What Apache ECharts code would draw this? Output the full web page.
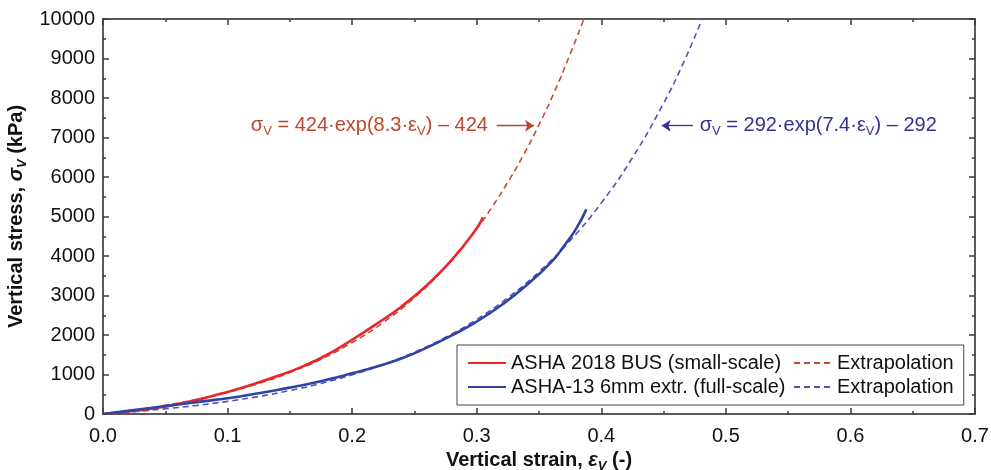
<!DOCTYPE html>
<html>
<head>
<meta charset="utf-8">
<script src="https://cdn.jsdelivr.net/npm/echarts@6/dist/echarts.min.js"></script>
<style>html,body{margin:0;padding:0;background:#fff}#c{width:991px;height:470px}</style>
</head>
<body>
<div id="c"></div>
<script>
// ---- data ----
const redStrain = [0, 0.02, 0.04, 0.06, 0.08, 0.10, 0.12, 0.14, 0.16, 0.18, 0.20, 0.22, 0.24, 0.26, 0.28, 0.30, 0.305];
const redStress = [0, 60, 140, 250, 390, 560, 750, 960, 1200, 1500, 1880, 2290, 2730, 3260, 3900, 4700, 4980];

const blueStrain = [0, 0.02, 0.04, 0.06, 0.08, 0.10, 0.12, 0.14, 0.16, 0.18, 0.20, 0.22, 0.24, 0.26, 0.28, 0.30, 0.32, 0.34, 0.36, 0.37, 0.38, 0.388];
const blueStress = [0, 80, 160, 240, 320, 400, 500, 610, 730, 870, 1030, 1200, 1410, 1680, 1990, 2340, 2760, 3260, 3850, 4250, 4700, 5180];

const redExtStrain = [0, 0.025, 0.05, 0.075, 0.1, 0.125, 0.15, 0.175, 0.2, 0.225, 0.25, 0.275, 0.3, 0.3125, 0.325, 0.3375, 0.35, 0.3625, 0.375, 0.386];
const redExtStress = [0, 98, 220, 366, 550, 773, 1050, 1388, 1810, 2320, 2950, 3731, 4690, 5250, 5870, 6557, 7320, 8166, 9110, 10000];

const blueExtStrain = [0, 0.025, 0.05, 0.075, 0.1, 0.125, 0.15, 0.175, 0.2, 0.225, 0.25, 0.275, 0.3, 0.325, 0.35, 0.375, 0.4, 0.425, 0.45, 0.465, 0.481];
const blueExtStress = [0, 59, 131, 217, 320, 444, 594, 774, 991, 1251, 1565, 1942, 2396, 2943, 3600, 4392, 5344, 6488, 7867, 8825, 10000];

const nameRed = 'ASHA 2018 BUS (small-scale)';
const nameBlue = 'ASHA-13 6mm extr. (full-scale)';
const nameRedExt = 'Extrapolation (small-scale)';
const nameBlueExt = 'Extrapolation (full-scale)';

// annotation anchors (data coordinates)
const annotY = 7300;
const redArrow = [[0.316, annotY], [0.346, annotY]];
const blueArrow = [[0.4735, annotY], [0.4485, annotY]];
const redLabelAt = [0.309, annotY];
const blueLabelAt = [0.479, annotY];

const zip = (a, b) => a.map((v, i) => [v, b[i]]);

const FONT = '"Liberation Sans", Arial, sans-serif';
const RED = '#e8262c', RED_EXT = '#c64a32', RED_TXT = '#b9462f';
const BLUE = '#2f43a6', BLUE_EXT = '#5252b4', BLUE_TXT = '#323294';

function richFor(color) {
  return {
    m: {fontSize: 20, fontFamily: FONT, color: color, lineHeight: 24, verticalAlign: 'middle'},
    g: {fontSize: 20, fontFamily: FONT, color: color, lineHeight: 24, verticalAlign: 'middle'},
    s: {fontSize: 13, fontFamily: FONT, color: color, lineHeight: 13, verticalAlign: 'bottom'}
  };
}
function nameRich() {
  return {
    b: {fontSize: 20, fontWeight: 'bold', fontFamily: FONT, color: '#111', lineHeight: 24, verticalAlign: 'middle'},
    e: {fontSize: 20, fontWeight: 'bold', fontStyle: 'italic', fontFamily: FONT, color: '#111', lineHeight: 24, verticalAlign: 'middle'},
    sub: {fontSize: 13, fontWeight: 'bold', fontStyle: 'italic', fontFamily: FONT, color: '#111', lineHeight: 13, verticalAlign: 'bottom'}
  };
}

const chart = echarts.init(document.getElementById('c'), null, {renderer: 'canvas'});

const axisLineStyle = {color: '#5a5a5a', width: 2};
const tickStyle = {color: '#3a3a3a', width: 1.5};

const option = {
  animation: false,
  backgroundColor: '#fff',
  grid: {left: 103, right: 16, top: 19, bottom: 56, containLabel: false, outerBoundsMode: 'none'},
  legend: {
    left: 457, top: 345,
    width: 500,
    orient: 'horizontal',
    padding: [8, 10, 8, 10],
    itemGap: 4,
    itemWidth: 38,
    itemHeight: 14,
    borderColor: '#444',
    borderWidth: 1,
    backgroundColor: '#fff',
    itemStyle: {opacity: 0},
    textStyle: {fontSize: 20, fontFamily: FONT, color: '#111', lineHeight: 20},
    formatter: function (n) { return n.indexOf('Extrapolation') === 0 ? 'Extrapolation' : n; },
    data: [
      {name: nameRed, textStyle: {width: 278}},
      {name: nameRedExt},
      {name: nameBlue, textStyle: {width: 278}},
      {name: nameBlueExt}
    ]
  },
  xAxis: [{
    type: 'value', min: 0, max: 0.7, interval: 0.1,
    position: 'bottom',
    name: '{b|Vertical strain, }{e|ε}{sub|V}{b| (-)}',
    nameLocation: 'middle', nameGap: 34,
    nameTextStyle: {rich: nameRich()},
    axisLine: {show: true, onZero: false, lineStyle: axisLineStyle},
    axisTick: {show: true, inside: true, length: 6, lineStyle: tickStyle},
    minorTick: {show: true, splitNumber: 2, length: 3, lineStyle: tickStyle},
    splitLine: {show: false},
    axisLabel: {fontSize: 20, fontFamily: FONT, color: '#111', margin: 12,
      formatter: function (v) { return v.toFixed(1); }}
  }, {
    type: 'value', min: 0, max: 0.7, interval: 0.1,
    position: 'top',
    axisLine: {show: true, onZero: false, lineStyle: axisLineStyle},
    axisTick: {show: true, inside: true, length: 6, lineStyle: tickStyle},
    minorTick: {show: true, splitNumber: 2, length: 3, lineStyle: tickStyle},
    splitLine: {show: false},
    axisLabel: {show: false}
  }],
  yAxis: [{
    type: 'value', min: 0, max: 10000, interval: 1000,
    position: 'left',
    name: '{b|Vertical stress, }{e|σ}{sub|V}{b| (kPa)}',
    nameLocation: 'middle', nameGap: 73, nameRotate: 90,
    nameTextStyle: {rich: nameRich()},
    axisLine: {show: true, onZero: false, lineStyle: axisLineStyle},
    axisTick: {show: true, inside: true, length: 6, lineStyle: tickStyle},
    minorTick: {show: true, splitNumber: 2, length: 3, lineStyle: tickStyle},
    splitLine: {show: false},
    axisLabel: {fontSize: 20, fontFamily: FONT, color: '#111', margin: 8,
      formatter: function (v) { return String(v); }}
  }, {
    type: 'value', min: 0, max: 10000, interval: 1000,
    position: 'right',
    axisLine: {show: true, onZero: false, lineStyle: axisLineStyle},
    axisTick: {show: true, inside: true, length: 6, lineStyle: tickStyle},
    minorTick: {show: true, splitNumber: 2, length: 3, lineStyle: tickStyle},
    splitLine: {show: false},
    axisLabel: {show: false}
  }],
  series: [
    {
      name: nameRedExt, type: 'line', xAxisIndex: 0, yAxisIndex: 0,
      data: zip(redExtStrain, redExtStress), smooth: true, showSymbol: false, symbol: 'none',
      lineStyle: {color: RED_EXT, width: 1.6, type: [6, 4]}, itemStyle: {color: RED_EXT}, z: 2,
      markLine: {
        silent: true, symbol: ['none', 'arrow'], symbolSize: 9,
        lineStyle: {color: RED_TXT, width: 1.3, type: 'solid'}, label: {show: false},
        data: [[{coord: redArrow[0]}, {coord: redArrow[1]}]]
      },
      markPoint: {
        silent: true, symbol: 'circle', symbolSize: 0,
        label: {show: true, position: 'left', distance: 0,
          formatter: '{g|σ}{s|V}{m| = 424·exp(8.3·}{g|ε}{s|V}{m|) – 424}', rich: richFor(RED_TXT)},
        data: [{coord: redLabelAt}]
      }
    },
    {
      name: nameBlueExt, type: 'line', xAxisIndex: 0, yAxisIndex: 0,
      data: zip(blueExtStrain, blueExtStress), smooth: true, showSymbol: false, symbol: 'none',
      lineStyle: {color: BLUE_EXT, width: 1.6, type: [6, 4]}, itemStyle: {color: BLUE_EXT}, z: 2,
      markLine: {
        silent: true, symbol: ['none', 'arrow'], symbolSize: 9,
        lineStyle: {color: BLUE_TXT, width: 1.3, type: 'solid'}, label: {show: false},
        data: [[{coord: blueArrow[0]}, {coord: blueArrow[1]}]]
      },
      markPoint: {
        silent: true, symbol: 'circle', symbolSize: 0,
        label: {show: true, position: 'right', distance: 0,
          formatter: '{g|σ}{s|V}{m| = 292·exp(7.4·}{g|ε}{s|V}{m|) – 292}', rich: richFor(BLUE_TXT)},
        data: [{coord: blueLabelAt}]
      }
    },
    {
      name: nameRed, type: 'line', xAxisIndex: 0, yAxisIndex: 0,
      data: zip(redStrain, redStress), smooth: true, showSymbol: false, symbol: 'none',
      lineStyle: {color: RED, width: 2.6}, itemStyle: {color: RED}, z: 3
    },
    {
      name: nameBlue, type: 'line', xAxisIndex: 0, yAxisIndex: 0,
      data: zip(blueStrain, blueStress), smooth: true, showSymbol: false, symbol: 'none',
      lineStyle: {color: BLUE, width: 2.6}, itemStyle: {color: BLUE}, z: 3
    }
  ]
};
chart.setOption(option);
</script>
</body>
</html>
